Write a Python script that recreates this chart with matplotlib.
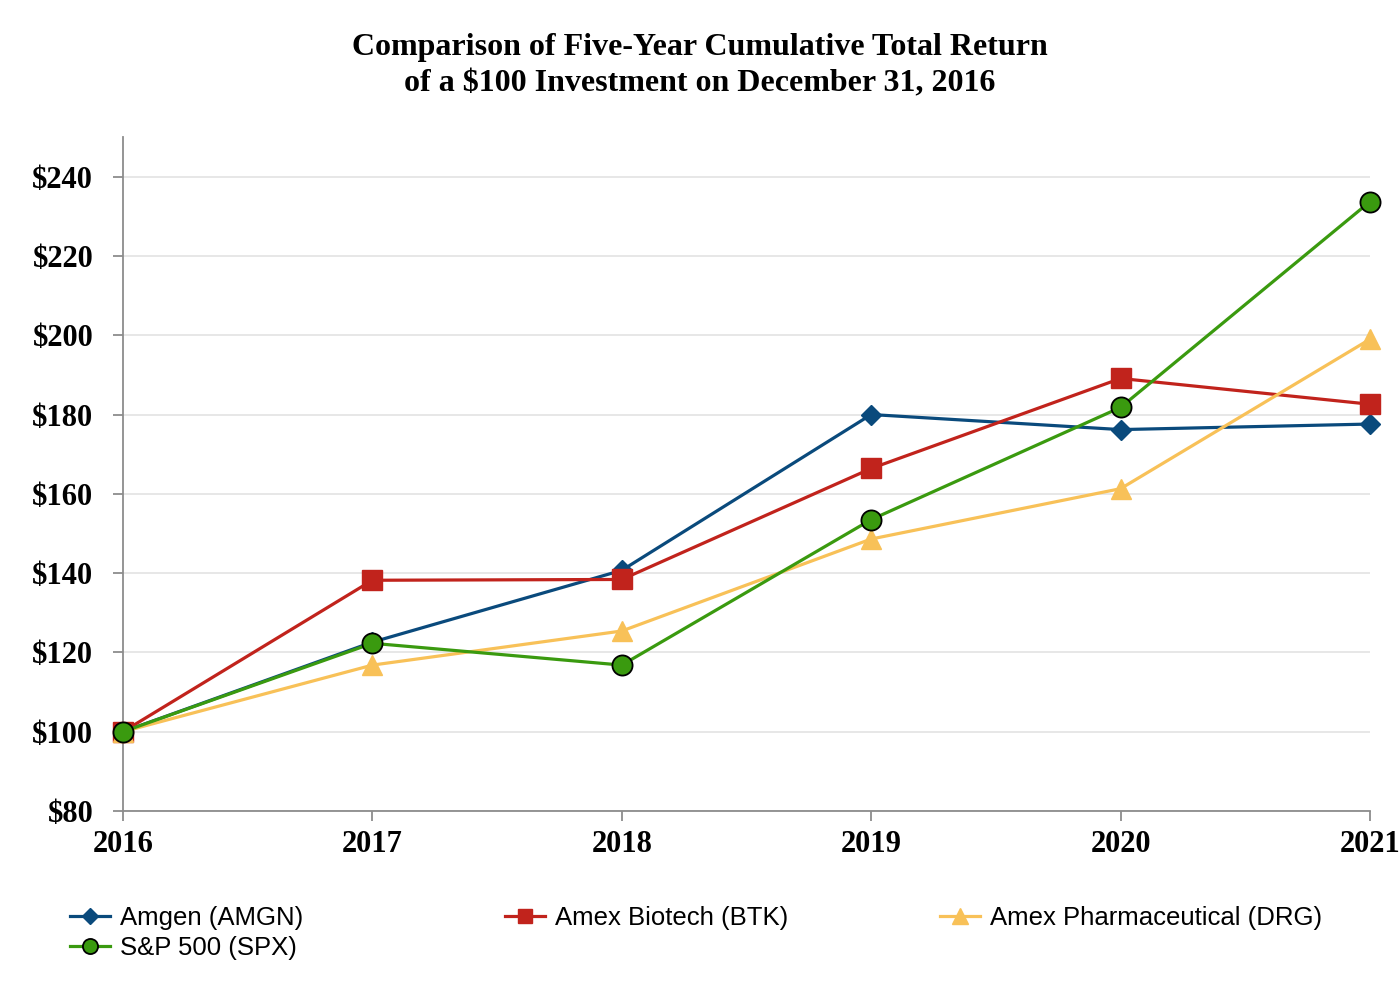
import matplotlib.pyplot as plt
from matplotlib.ticker import FuncFormatter

years = [2016, 2017, 2018, 2019, 2020, 2021]
amgn = [100, 122.6, 140.7, 180.0, 176.2, 177.6]
btk = [100, 138.2, 138.4, 166.4, 189.1, 182.6]
drg = [100, 116.8, 125.4, 148.6, 161.3, 199.0]
spx = [100, 122.3, 116.8, 153.5, 181.8, 233.7]

labels = ['Amgen (AMGN)', 'Amex Biotech (BTK)', 'Amex Pharmaceutical (DRG)', 'S&P 500 (SPX)']
colors = ['#0a4a7c', '#c1231c', '#f8c158', '#3a9a0f']

serif = 'Liberation Serif'
sans = 'Liberation Sans'

fig = plt.figure(figsize=(14, 10), dpi=100)
ax = fig.add_axes([123 / 1400, 189 / 1000, 1247 / 1400, 674 / 1000])

lw = 2.3
h1, = ax.plot(years, amgn, color=colors[0], lw=lw, marker='D', ms=10.5,
              clip_on=False, zorder=3)
h2, = ax.plot(years, btk, color=colors[1], lw=lw, marker='s', ms=14,
              clip_on=False, zorder=3)
h3, = ax.plot(years, drg, color=colors[2], lw=lw, marker='^', ms=15,
              clip_on=False, zorder=3)
h4, = ax.plot(years, spx, color=colors[3], lw=lw, marker='o', ms=14.5,
              markeredgecolor='black', markeredgewidth=1.3, clip_on=False, zorder=4)

ax.set_xlim(2016, 2021)
ax.set_ylim(80, 250)
ax.set_yticks(range(80, 241, 20))
ax.set_xticks(years)
ax.yaxis.set_major_formatter(FuncFormatter(lambda v, p: '$%d' % v))
ax.grid(axis='y', color='#e5e5e5', lw=1.3, zorder=0)
ax.set_axisbelow(True)

for s in ['top', 'right']:
    ax.spines[s].set_visible(False)
for s in ['left', 'bottom']:
    ax.spines[s].set_color('#8c8c8c')
    ax.spines[s].set_linewidth(1.3)
ax.tick_params(axis='both', colors='#8c8c8c', length=7.5, width=1.3, labelcolor='black')
ax.tick_params(axis='y', pad=14)
ax.tick_params(axis='x', pad=6)
for t in ax.get_xticklabels() + ax.get_yticklabels():
    t.set_fontfamily(serif)
    t.set_fontweight('bold')
    t.set_fontsize(22)

fig.text(0.5, 0.967, 'Comparison of Five-Year Cumulative Total Return\nof a $100 Investment on December 31, 2016',
         ha='center', va='top', fontfamily=serif, fontweight='bold', fontsize=23,
         linespacing=1.33)

leg_kw = dict(loc='upper left', frameon=False, handlelength=1.55, handletextpad=0.4,
              labelspacing=0.25, borderaxespad=0, borderpad=0, markerscale=0.75,
              prop={'family': sans, 'size': 18.5})
fig.legend([h1, h4], [labels[0], labels[3]], bbox_to_anchor=(70 / 1400, 0.094), **leg_kw)
fig.legend([h2], [labels[1]], bbox_to_anchor=(505 / 1400, 0.094), **leg_kw)
fig.legend([h3], [labels[2]], bbox_to_anchor=(940 / 1400, 0.094), **leg_kw)

fig.savefig('out.png', dpi=100)
